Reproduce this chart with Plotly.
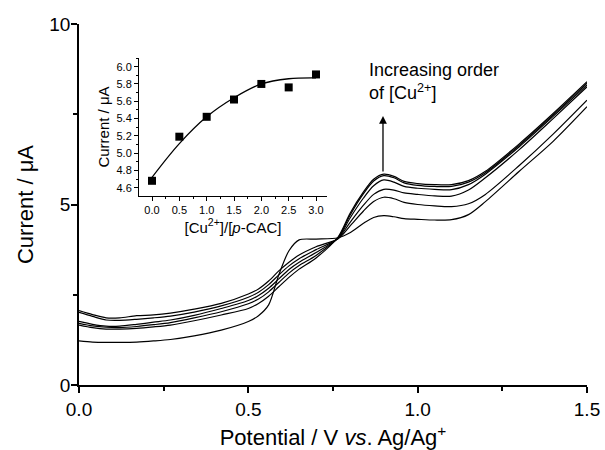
import plotly.graph_objects as go

# ---------------- data ----------------
potential = [0, 0.04, 0.08, 0.12, 0.17, 0.22, 0.27, 0.34, 0.42, 0.5, 0.53, 0.56, 0.59, 0.62,
             0.65, 0.7, 0.765, 0.8, 0.84, 0.87, 0.9, 0.93, 0.96, 1.0, 1.05, 1.1, 1.15, 1.2,
             1.3, 1.4, 1.5]

current_0 = [1.22, 1.19, 1.18, 1.18, 1.19, 1.22, 1.26, 1.36, 1.52, 1.76, 1.92, 2.22, 3.05, 3.72,
             4.02, 4.04, 4.08, 4.22, 4.48, 4.64, 4.69, 4.66, 4.61, 4.59, 4.57, 4.58, 4.72, 5.08,
             5.92, 6.75, 7.71]
current_1 = [2.06, 1.95, 1.86, 1.86, 1.92, 1.94, 1.99, 2.10, 2.26, 2.52, 2.66, 2.88, 3.16, 3.40,
             3.60, 3.83, 4.05, 4.40, 4.82, 5.08, 5.20, 5.16, 5.06, 5.00, 4.96, 4.94, 5.02, 5.28,
             6.08, 6.95, 7.89]
current_2 = [2.01, 1.90, 1.80, 1.79, 1.82, 1.86, 1.91, 2.02, 2.19, 2.43, 2.57, 2.78, 3.05, 3.30,
             3.50, 3.75, 4.06, 4.50, 4.98, 5.28, 5.42, 5.40, 5.32, 5.28, 5.24, 5.23, 5.40, 5.74,
             6.52, 7.38, 8.26]
current_3 = [1.76, 1.68, 1.63, 1.63, 1.68, 1.74, 1.80, 1.93, 2.12, 2.34, 2.48, 2.68, 2.94, 3.20,
             3.40, 3.67, 4.07, 4.62, 5.18, 5.52, 5.68, 5.62, 5.50, 5.45, 5.42, 5.41, 5.55, 5.84,
             6.60, 7.44, 8.31]
current_4 = [1.71, 1.64, 1.60, 1.59, 1.62, 1.67, 1.73, 1.86, 2.03, 2.25, 2.38, 2.58, 2.84, 3.10,
             3.31, 3.59, 4.08, 4.70, 5.30, 5.65, 5.80, 5.74, 5.60, 5.53, 5.50, 5.50, 5.62, 5.88,
             6.64, 7.48, 8.36]
current_5 = [1.66, 1.59, 1.55, 1.55, 1.57, 1.61, 1.66, 1.78, 1.94, 2.12, 2.26, 2.46, 2.72, 2.98,
             3.21, 3.52, 4.10, 4.75, 5.35, 5.70, 5.84, 5.78, 5.64, 5.58, 5.55, 5.55, 5.66, 5.92,
             6.68, 7.52, 8.40]

ratio = [0.0, 0.5, 1.0, 1.5, 2.0, 2.5, 3.0]
peak_current = [4.68, 5.19, 5.42, 5.62, 5.80, 5.76, 5.91]
fit_ratio = [0.0, 0.5, 1.0, 1.5, 2.0, 2.5, 3.0]
fit_current = [4.72, 5.11, 5.42, 5.64, 5.80, 5.86, 5.87]

main_xticks = [0.0, 0.5, 1.0, 1.5]
main_yticks = [0, 5, 10]
inset_xticks = [0.0, 0.5, 1.0, 1.5, 2.0, 2.5, 3.0]
inset_yticks = [4.6, 4.8, 5.0, 5.2, 5.4, 5.6, 5.8, 6.0]

FONT = "Arial, Liberation Sans, sans-serif"

fig = go.Figure()
for cur in [current_0, current_1, current_2, current_3, current_4, current_5]:
    fig.add_trace(go.Scatter(x=potential, y=cur, mode="lines",
                             line=dict(color="black", width=1.2, shape="spline", smoothing=0.8),
                             showlegend=False, hoverinfo="skip"))

fig.add_trace(go.Scatter(x=fit_ratio, y=fit_current, mode="lines", xaxis="x2", yaxis="y2",
                         line=dict(color="black", width=1.3, shape="spline", smoothing=1.0),
                         showlegend=False))
fig.add_trace(go.Scatter(x=ratio, y=peak_current, mode="markers", xaxis="x2", yaxis="y2",
                         marker=dict(symbol="square", size=8, color="black"),
                         showlegend=False))

axis_common = dict(showline=True, linecolor="black", linewidth=1.5, ticks="outside",
                   tickcolor="black", tickwidth=1.5, showgrid=False, zeroline=False,
                   mirror=False, automargin=False)

fig.update_layout(
    width=605, height=450,
    margin=dict(l=79, r=18, t=24, b=65),
    paper_bgcolor="white", plot_bgcolor="white",
    font=dict(family=FONT, color="black"),
    xaxis=dict(range=[0, 1.5], tickvals=main_xticks, ticktext=[f"{v:.1f}" for v in main_xticks],
               ticklen=6, tickfont=dict(size=19),
               minor=dict(ticks="outside", ticklen=4, dtick=0.25, tickcolor="black", tickwidth=1.5),
               title=dict(text="Potential / V <i>vs</i>. Ag/Ag<sup>+</sup>", font=dict(size=22),
                          standoff=13),
               **axis_common),
    yaxis=dict(range=[0, 10], tickvals=main_yticks, ticklen=6, tickfont=dict(size=19),
               ticklabelstandoff=-3,
               minor=dict(ticks="outside", ticklen=4, dtick=2.5, tickcolor="black", tickwidth=1.5),
               title=dict(text="Current / μA", font=dict(size=22), standoff=10),
               **axis_common),
    xaxis2=dict(domain=[0.1181, 0.4882], anchor="y2", range=[-0.238, 3.201],
                tickvals=inset_xticks, ticktext=[f"{v:.1f}" for v in inset_xticks],
                ticklen=4, tickfont=dict(size=11),
                minor=dict(ticks="outside", ticklen=2, dtick=0.25, tickcolor="black", tickwidth=1),
                title=dict(text="[Cu<sup>2+</sup>]/[<i>p</i>-CAC]", font=dict(size=15), standoff=0),
                showline=True, linecolor="black", linewidth=1, ticks="outside",
                tickcolor="black", tickwidth=1, showgrid=False, zeroline=False, automargin=False),
    yaxis2=dict(domain=[0.5235, 0.9058], anchor="x2", range=[4.504, 6.10],
                tickvals=inset_yticks, ticktext=[f"{v:.1f}" for v in inset_yticks],
                ticklen=4, tickfont=dict(size=11),
                minor=dict(ticks="outside", ticklen=2, dtick=0.1, tickcolor="black", tickwidth=1),
                title=dict(text="Current / μA", font=dict(size=15), standoff=3),
                showline=True, linecolor="black", linewidth=1, ticks="outside",
                tickcolor="black", tickwidth=1, showgrid=False, zeroline=False, automargin=False),
    annotations=[
        dict(x=0.8976, y=7.45, ax=0.8976, ay=5.87, xref="x", yref="y", axref="x", ayref="y",
             text="", showarrow=True, arrowhead=2, arrowsize=1.2, arrowwidth=1.3,
             arrowcolor="black"),
        dict(x=0.85, y=9.05, xref="x", yref="y", xanchor="left", yanchor="top", align="left",
             text="Increasing order<br>of [Cu<sup>2+</sup>]", showarrow=False,
             font=dict(size=18, family=FONT, color="black")),
    ],
)

fig.write_html("out.html", config={"displayModeBar": False},
               post_script="document.body.style.margin='0';document.body.style.padding='0';")
